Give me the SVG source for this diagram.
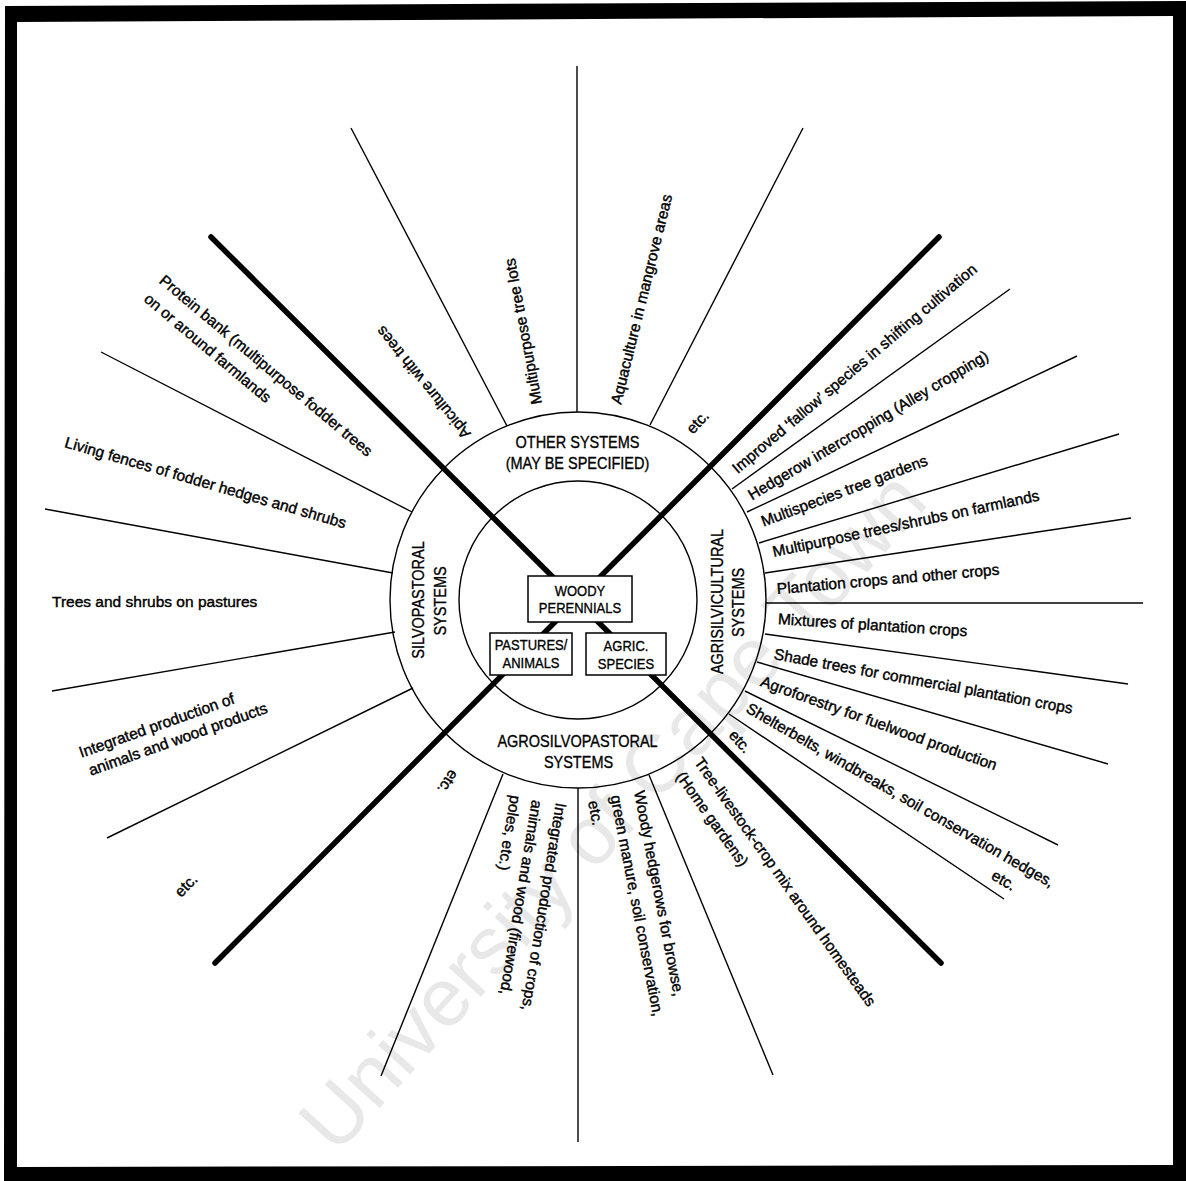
<svg xmlns="http://www.w3.org/2000/svg" width="1186" height="1181" viewBox="0 0 1186 1181">
<style>
.t{font-family:"Liberation Sans",Arial,sans-serif;font-size:15.5px;fill:#000;stroke:#000;stroke-width:0.4;dominant-baseline:middle}
.c{font-family:"Liberation Sans",Arial,sans-serif;font-size:14.5px;fill:#000;stroke:#000;stroke-width:0.3;text-anchor:middle;dominant-baseline:central}
.b{font-family:"Liberation Sans",Arial,sans-serif;font-size:13px;fill:#000;stroke:#000;stroke-width:0.3;text-anchor:middle;dominant-baseline:central}
.thin{stroke:#000;stroke-width:1.4;fill:none}
.thick{stroke:#000;stroke-width:5.5;stroke-linecap:round;fill:none}
.box{fill:#fff;stroke:#000;stroke-width:1.5}
.wm{font-family:"Liberation Sans",Arial,sans-serif;font-size:82px;fill:#e8e8e8}
</style>
<rect width="1186" height="1181" fill="#fff"/>
<text class="wm" transform="translate(336,1156) rotate(-47.7)">University of Cape Town</text>
<path d="M5,6 L1186,1 L1186,1181 L4,1181 Z M17,22 L1173,16 L1173,1165 L17,1167 Z" fill="#000" fill-rule="evenodd"/>
<g id="connectors">
<circle class="thin" cx="578" cy="600" r="188"/>
<circle class="thin" cx="578" cy="600" r="119"/>
<line class="thick" x1="211" y1="237" x2="941" y2="963"/>
<line class="thick" x1="939" y1="237" x2="215" y2="963"/>
<line class="thin" x1="351" y1="128" x2="507" y2="426"/>
<line class="thin" x1="577" y1="66" x2="577" y2="412"/>
<line class="thin" x1="803" y1="128" x2="650" y2="425"/>
<line class="thin" x1="1010" y1="289" x2="732" y2="489"/>
<line class="thin" x1="1077" y1="356" x2="747" y2="512"/>
<line class="thin" x1="1119" y1="434" x2="759" y2="543"/>
<line class="thin" x1="1131" y1="518" x2="765" y2="573"/>
<line class="thin" x1="1143" y1="603" x2="766" y2="603"/>
<line class="thin" x1="1128" y1="684" x2="765" y2="634"/>
<line class="thin" x1="1108" y1="764" x2="757" y2="662"/>
<line class="thin" x1="1058" y1="845" x2="745" y2="691"/>
<line class="thin" x1="1004" y1="899" x2="729" y2="714"/>
<line class="thin" x1="773" y1="1075" x2="649" y2="775"/>
<line class="thin" x1="578" y1="1142" x2="578" y2="788"/>
<line class="thin" x1="381" y1="1076" x2="503" y2="774"/>
<line class="thin" x1="107" y1="838" x2="413" y2="688"/>
<line class="thin" x1="52" y1="691" x2="395" y2="632"/>
<line class="thin" x1="45" y1="509" x2="393" y2="573"/>
<line class="thin" x1="101" y1="352" x2="412" y2="512"/>
</g>
<g id="woody">
<rect class="box" x="528" y="576" width="104" height="46"/>
<text class="b" transform="translate(580,591) scale(1,1.12)">WOODY</text>
<text class="b" transform="translate(580,608) scale(1,1.12)">PERENNIALS</text>
</g>
<g id="pastures">
<rect class="box" x="490" y="633" width="82" height="42"/>
<text class="b" transform="translate(531,645) scale(1,1.12)">PASTURES/</text>
<text class="b" transform="translate(531,663) scale(1,1.12)">ANIMALS</text>
</g>
<g id="agric">
<rect class="box" x="586" y="633" width="80" height="42"/>
<text class="b" transform="translate(626,646) scale(1,1.12)">AGRIC.</text>
<text class="b" transform="translate(626,664) scale(1,1.12)">SPECIES</text>
</g>
<g id="other-systems">
<text class="c" transform="translate(577.5,442) scale(1,1.15)">OTHER SYSTEMS</text>
<text class="c" transform="translate(577.5,463) scale(1,1.15)">(MAY BE SPECIFIED)</text>
</g>
<g id="agrosilvopastoral">
<text class="c" transform="translate(577.5,741) scale(1,1.15)">AGROSILVOPASTORAL</text>
<text class="c" transform="translate(578.5,762) scale(1,1.15)">SYSTEMS</text>
</g>
<g id="silvopastoral">
<text class="c" transform="translate(418,600) rotate(-90) scale(1,1.15)">SILVOPASTORAL</text>
<text class="c" transform="translate(440,601) rotate(-90) scale(1,1.15)">SYSTEMS</text>
</g>
<g id="agrisilvicultural">
<text class="c" transform="translate(717,601.5) rotate(-90) scale(1,1.15)">AGRISILVICULTURAL</text>
<text class="c" transform="translate(738,602.5) rotate(-90) scale(1,1.15)">SYSTEMS</text>
</g>
<g id="label-apiculture"><text class="t" transform="translate(468,436) rotate(-129)">Apiculture with trees</text></g>
<g id="label-treelots"><text class="t" transform="translate(538,404) rotate(-100.6)">Multipurpose tree lots</text></g>
<g id="label-aquaculture"><text class="t" transform="translate(617,404) rotate(-76.2)">Aquaculture in mangrove areas</text></g>
<g id="label-etc-top"><text class="t" transform="translate(690,432) rotate(-47)">etc.</text></g>
<g id="label-fallow"><text class="t" transform="translate(735,471) rotate(-40.2)">Improved ‘fallow’ species in shifting cultivation</text></g>
<g id="label-hedgerow"><text class="t" transform="translate(750,497) rotate(-30.8)">Hedgerow intercropping (Alley cropping)</text></g>
<g id="label-multispecies"><text class="t" transform="translate(762,523) rotate(-20.6)">Multispecies tree gardens</text></g>
<g id="label-multipurpose"><text class="t" transform="translate(773,553) rotate(-12)">Multipurpose trees/shrubs on farmlands</text></g>
<g id="label-plantation"><text class="t" transform="translate(777,590) rotate(-5)">Plantation crops and other crops</text></g>
<g id="label-mixtures"><text class="t" transform="translate(778,620) rotate(3.7)">Mixtures of plantation crops</text></g>
<g id="label-shade"><text class="t" transform="translate(774,655) rotate(10.4)">Shade trees for commercial plantation crops</text></g>
<g id="label-fuelwood"><text class="t" transform="translate(761,682) rotate(19.8)">Agroforestry for fuelwood production</text></g>
<g id="label-shelterbelts"><g transform="translate(747,708) rotate(30)"><text class="t">Shelterbelts, windbreaks, soil conservation hedges,</text><text class="t" x="296" y="22">etc.</text></g></g>
<g id="label-etc-right"><text class="t" transform="translate(731,733) rotate(48)">etc.</text></g>
<g id="label-homegardens"><g transform="translate(697,760) rotate(54.6)"><text class="t">Tree-livestock-crop mix around homesteads</text><text class="t" x="1" y="23">(Home gardens)</text></g></g>
<g id="label-hedgerows"><g transform="translate(638,791) rotate(79)"><text class="t">Woody hedgerows for browse,</text><text class="t" x="0" y="24">green manure, soil conservation,</text><text class="t" x="1" y="47">etc.</text></g></g>
<g id="label-crops"><g transform="translate(560,803) rotate(99.4)"><text class="t">Integrated production of crops,</text><text class="t" x="1" y="24">animals and wood (firewood,</text><text class="t" x="0" y="46">poles, etc.)</text></g></g>
<g id="label-etc-bottom"><text class="t" transform="translate(454,771) rotate(124)">etc.</text></g>
<g id="label-etc-left"><text class="t" transform="translate(178,895) rotate(-45)">etc.</text></g>
<g id="label-animals-wood"><g transform="translate(80,754) rotate(-19.6)"><text class="t">Integrated production of</text><text class="t" x="3" y="20">animals and wood products</text></g></g>
<g id="label-pastures"><text class="t" transform="translate(52,603)">Trees and shrubs on pastures</text></g>
<g id="label-fences"><text class="t" transform="translate(65,443) rotate(16.2)">Living fences of fodder hedges and shrubs</text></g>
<g id="label-protein"><g transform="translate(161,279) rotate(40)"><text class="t">Protein bank (multipurpose fodder trees</text><text class="t" x="0" y="24">on or around farmlands</text></g></g>
</svg>
